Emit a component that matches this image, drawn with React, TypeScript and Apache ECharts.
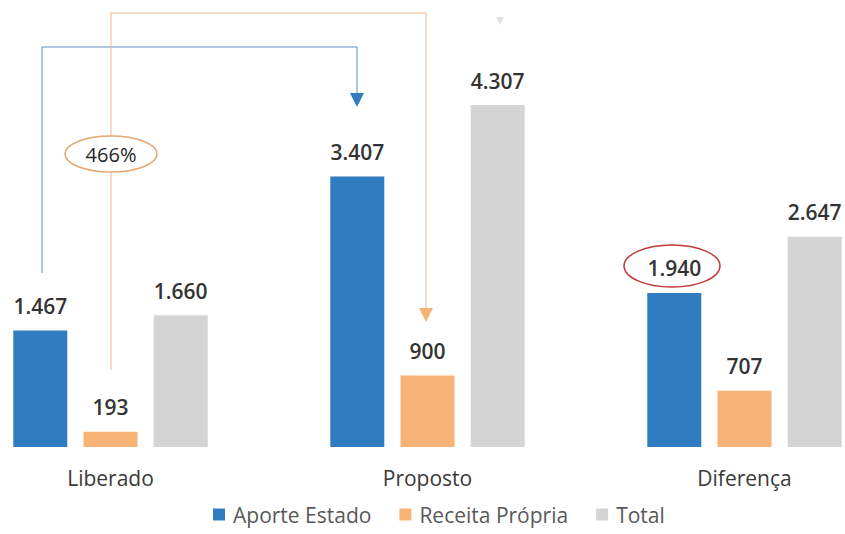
import React, { useEffect, useRef } from "react";
import * as echarts from "echarts";

const categories = ["Liberado", "Proposto", "Diferença"];
const seriesNames = ["Aporte Estado", "Receita Própria", "Total"];
const aporteEstado = [1467, 3407, 1940];
const receitaPropria = [193, 900, 707];
const total = [1660, 4307, 2647];
const colors = ["#2f7cc1", "#f7b275", "#d4d4d4"];

const fmt = (v: number) => {
  const s = String(Math.round(v));
  return s.replace(/\B(?=(\d{3})+(?!\d))/g, ".");
};

// chart canvas extends beyond the page so that category bands match the reference
const OFFSET_X = 48;
const CANVAS_W = 951;

export default function App() {
  const ref = useRef<HTMLDivElement>(null);
  useEffect(() => {
    if (!ref.current) return;
    const chart = echarts.init(ref.current, null, { renderer: "svg" });
    const X = (x: number) => x + OFFSET_X;
    const mkSeries = (name: string, data: number[], color: string) => ({
      name,
      type: "bar",
      data,
      barWidth: 54,
      barGap: "30%",
      itemStyle: { color },
      label: {
        show: true,
        position: "top",
        distance: 14,
        formatter: (p: any) => fmt(p.value),
        fontFamily: "Open Sans",
        fontSize: 21,
        fontWeight: 600,
        color: "#333333",
      },
    });
    const blueLine = "#5b8fc4";
    const orangeLine = "#ebb88f";
    chart.setOption({
      animation: false,
      backgroundColor: "#ffffff",
      textStyle: { fontFamily: "Open Sans" },
      grid: { left: 0, right: 0, top: 50, bottom: 87 },
      xAxis: {
        type: "category",
        data: categories,
        axisLine: { show: false },
        axisTick: { show: false },
        axisLabel: {
          margin: 20,
          fontSize: 21,
          color: "#3a3a3a",
          fontFamily: "Open Sans",
        },
      },
      yAxis: {
        type: "value",
        min: 0,
        max: 5000,
        show: false,
        splitLine: { show: false },
      },
      legend: {
        data: seriesNames,
        left: X(208),
        top: 499,
        itemWidth: 12,
        itemHeight: 12,
        itemGap: 28,
        icon: "rect",
        textStyle: { fontSize: 21, color: "#595959", fontFamily: "Open Sans", padding: [0, 0, 0, 3] },
      },
      series: [
        mkSeries(seriesNames[0], aporteEstado, colors[0]),
        mkSeries(seriesNames[1], receitaPropria, colors[1]),
        mkSeries(seriesNames[2], total, colors[2]),
      ],
      graphic: [
        {
          type: "polyline",
          z: 1,
          shape: { points: [[X(42), 273], [X(42), 47], [X(357), 47], [X(357), 95]] },
          style: { stroke: blueLine, lineWidth: 1, fill: null },
        },
        {
          type: "polygon",
          z: 1,
          shape: { points: [[X(350), 93], [X(364), 93], [X(357), 107]] },
          style: { fill: "#2f7cc1" },
        },
        {
          type: "polyline",
          z: 1,
          shape: { points: [[X(111), 370], [X(111), 13], [X(426), 13], [X(426), 310]] },
          style: { stroke: orangeLine, lineWidth: 1, fill: null },
        },
        {
          type: "polygon",
          z: 1,
          shape: { points: [[X(419), 308], [X(433), 308], [X(426), 322]] },
          style: { fill: "#f7b275" },
        },
        {
          type: "ellipse",
          z: 2,
          shape: { cx: X(111), cy: 154, rx: 46, ry: 18 },
          style: { fill: "#ffffff", stroke: "#e6a66f", lineWidth: 1.5 },
        },
        {
          type: "text",
          z: 3,
          x: X(111),
          y: 154,
          style: {
            text: "466%",
            fontSize: 20,
            fontFamily: "Open Sans",
            fill: "#262626",
            align: "center",
            verticalAlign: "middle",
          },
        },
        {
          type: "ellipse",
          z: 3,
          shape: { cx: X(672), cy: 266, rx: 48, ry: 21 },
          style: { fill: null, stroke: "#c0393b", lineWidth: 1.5 },
        },
        {
          type: "polygon",
          z: 1,
          shape: { points: [[X(496), 17], [X(504), 17], [X(500), 25]] },
          style: { fill: "#e3e3e3" },
        },
      ],
    });
    return () => chart.dispose();
  }, []);
  return (
    <div
      style={{
        position: "fixed",
        left: 0,
        top: 0,
        width: 845,
        height: 534,
        overflow: "hidden",
        background: "#ffffff",
      }}
    >
      <div
        ref={ref}
        style={{ position: "absolute", left: -OFFSET_X, top: 0, width: CANVAS_W, height: 534 }}
      />
    </div>
  );
}
